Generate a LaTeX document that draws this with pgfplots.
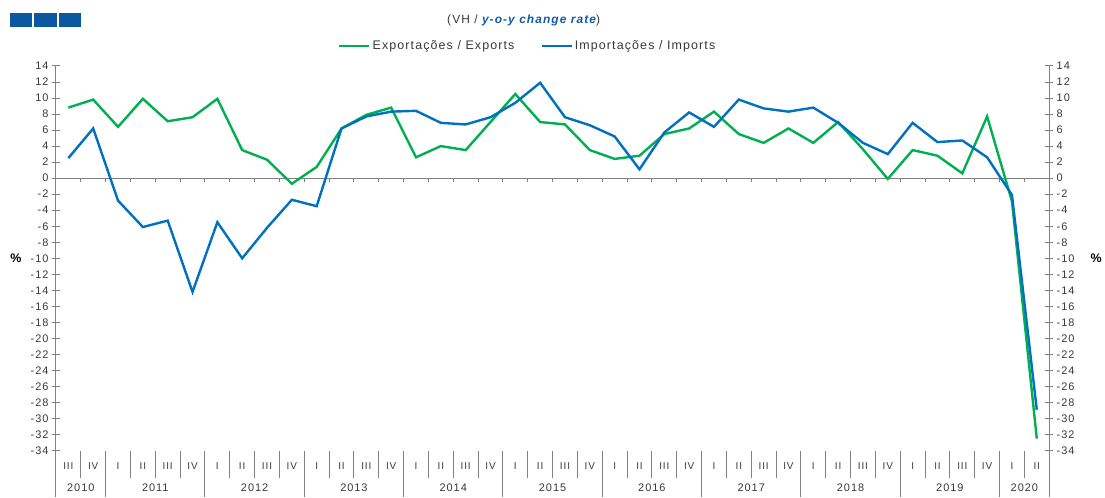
\documentclass[border=0pt]{standalone}
\usepackage{fontspec}
\setmainfont{Liberation Sans}[LetterSpace=9]
\usepackage{pgfplots}
\usepackage{pgfplotstable}
\pgfplotsset{compat=1.18}

\definecolor{expgreen}{RGB}{0,176,80}
\definecolor{impblue}{RGB}{0,112,192}
\definecolor{txtgray}{RGB}{56,56,56}
\definecolor{axgray}{RGB}{128,128,128}
\definecolor{boxblue}{RGB}{12,88,160}
\definecolor{titleblue}{RGB}{20,90,160}

% quarterly y-o-y change rate, 2010 III to 2020 II
\pgfplotstableread{
i exp imp
0 8.8 2.5
1 9.8 6.2
2 6.4 -2.8
3 9.9 -6.1
4 7.1 -5.3
5 7.6 -14.2
6 9.9 -5.5
7 3.5 -10.0
8 2.3 -6.2
9 -0.7 -2.7
10 1.4 -3.5
11 6.2 6.2
12 7.9 7.7
13 8.8 8.3
14 2.6 8.4
15 4.0 6.9
16 3.5 6.7
17 7.0 7.6
18 10.5 9.4
19 7.0 11.9
20 6.7 7.6
21 3.5 6.6
22 2.4 5.2
23 2.8 1.1
24 5.5 5.7
25 6.2 8.2
26 8.3 6.4
27 5.5 9.8
28 4.4 8.7
29 6.2 8.3
30 4.4 8.8
31 7.0 6.9
32 3.6 4.4
33 -0.1 3.0
34 3.5 6.9
35 2.8 4.5
36 0.6 4.7
37 7.7 2.6
38 -2.9 -2.1
39 -32.5 -28.9
}\trade

\pgfplotsset{
  common/.style={
    scale only axis, width=994bp, height=385bp,
    xmin=-0.5, xmax=39.5, ymin=-34, ymax=14,
    ytick={-34,-32,...,14},
    tick align=center, major tick length=8bp,
    every tick/.style={axgray, line width=0.9bp},
    axis line style={axgray, line width=1bp},
    /pgf/number format/assume math mode=true,
    yticklabel style={font=\fontsize{11}{13}\selectfont, text=txtgray},
    clip=false,
  },
}

\begin{document}
\begin{tikzpicture}[x=1bp,y=1bp]
% right-hand scale
\begin{axis}[common, axis x line=none, axis y line*=right]
\end{axis}

\begin{axis}[common,
  axis y line*=left,
  axis x line*=bottom,
  x axis line style={draw=none},
  xtick={0,...,39},
  xtick style={draw=none},
  xticklabels={III,IV,I,II,III,IV,I,II,III,IV,I,II,III,IV,I,II,III,IV,I,II,III,IV,I,II,III,IV,I,II,III,IV,I,II,III,IV,I,II,III,IV,I,II},
  xticklabel style={font=\fontsize{10}{12}\selectfont, text=txtgray, yshift=-4bp},
  extra x ticks={0.5,3.5,7.5,11.5,15.5,19.5,23.5,27.5,31.5,35.5,38.5},
  extra x tick labels={2010,2011,2012,2013,2014,2015,2016,2017,2018,2019,2020},
  extra x tick style={xticklabel style={yshift=-22bp, font=\fontsize{11}{13}\selectfont}},
  legend columns=2,
  legend style={at={(axis description cs:0.475,1.052)}, anchor=center, draw=none, fill=none,
    font=\fontsize{12.5}{14}\selectfont, text=txtgray,
    /tikz/every even column/.append style={column sep=24bp}},
  legend image code/.code={\draw[#1] (0bp,0bp) -- (30bp,0bp);},
]
\draw[axgray, line width=1bp] (axis cs:-0.5,0) -- (axis cs:39.5,0);
\pgfplotsinvokeforeach{0,...,38}{\draw[axgray, line width=0.9bp] (axis cs:#1.5,0) -- ++(0bp,-4bp);}
\addplot[expgreen, line width=2.4bp] table[x=i, y=exp] {\trade};
\addplot[impblue, line width=2.4bp] table[x=i, y=imp] {\trade};
\legend{Exportações / Exports, Importações / Imports}
\end{axis}

% axis extensions and category separators below the plot
\draw[axgray, line width=1bp] (0,0) -- (0,-46);
\draw[axgray, line width=1bp] (994,0) -- (994,-46);
\foreach \b in {0,2,3,4,6,7,8,10,11,12,14,15,16,18,19,20,22,23,24,26,27,28,30,31,32,34,35,36,38}
  \draw[axgray, line width=0.9bp] ({(\b+1)*24.85},0) -- ++(0,-27);
\foreach \b in {1,5,9,13,17,21,25,29,33,37}
  \draw[axgray, line width=0.9bp] ({(\b+1)*24.85},0) -- ++(0,-46);

% % signs
\node[font=\bfseries\fontsize{12.5}{14}\selectfont] at (-40,193) {\%};
\node[font=\bfseries\fontsize{12.5}{14}\selectfont] at (1041,193) {\%};

% title and logo boxes
\node[font=\fontsize{12}{14}\selectfont] at (468,431)
  {\textcolor{txtgray}{(VH / }\textcolor{titleblue}{\bfseries\itshape y-o-y change rate}\textcolor{txtgray}{)}};
\fill[boxblue] (-46,424) rectangle (-24,438);
\fill[boxblue] (-22,424) rectangle (1,438);
\fill[boxblue] (3,424) rectangle (25,438);

\path (-56,-46) rectangle (1049,451);
\end{tikzpicture}
\end{document}
